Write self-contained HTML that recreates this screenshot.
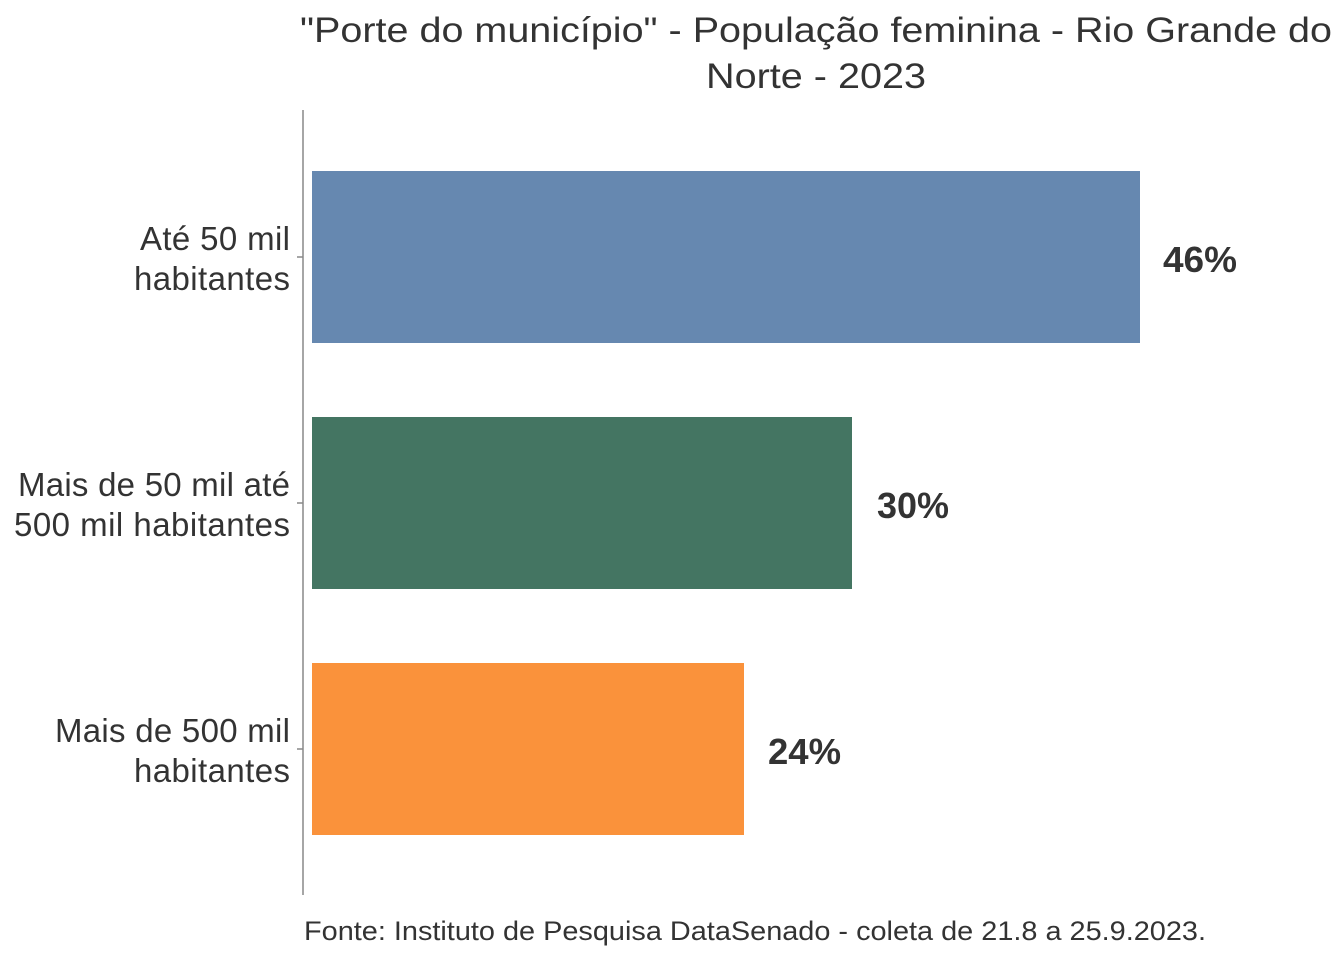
<!DOCTYPE html>
<html><head><meta charset="utf-8"><style>html,body{margin:0;padding:0;background:#fff}svg{display:block}</style></head>
<body>
<svg width="1344" height="960" viewBox="0 0 1344 960" xmlns="http://www.w3.org/2000/svg" font-family="'Liberation Sans', sans-serif">
<rect width="1344" height="960" fill="#fff"/>
<g fill="#333" font-size="35">
<text x="300" y="42" textLength="1032" lengthAdjust="spacingAndGlyphs">"Porte do município" - População feminina - Rio Grande do</text>
<text x="706" y="88" textLength="220" lengthAdjust="spacingAndGlyphs">Norte - 2023</text>
</g>
<line x1="303" y1="110" x2="303" y2="895" stroke="#888" stroke-width="1.5"/>
<g stroke="#888" stroke-width="1.5">
<line x1="297" y1="257" x2="303" y2="257"/><line x1="297" y1="503" x2="303" y2="503"/><line x1="297" y1="749" x2="303" y2="749"/>
</g>
<rect x="312" y="171" width="828" height="172" fill="#6688b0"/>
<rect x="312" y="417" width="540" height="172" fill="#447562"/>
<rect x="312" y="663" width="432" height="172" fill="#fa923b"/>
<g fill="#333" font-size="33" lengthAdjust="spacingAndGlyphs">
<text x="140" y="250" textLength="150">Até 50 mil</text><text x="134" y="290" textLength="156">habitantes</text>
<text x="18" y="496" textLength="272">Mais de 50 mil até</text><text x="14" y="536" textLength="276">500 mil habitantes</text>
<text x="55" y="742" textLength="235">Mais de 500 mil</text><text x="134" y="782" textLength="156">habitantes</text>
</g>
<g fill="#333" font-size="36" font-weight="bold">
<text x="1163" y="272" textLength="74" lengthAdjust="spacingAndGlyphs">46%</text>
<text x="877" y="518" textLength="72" lengthAdjust="spacingAndGlyphs">30%</text>
<text x="768" y="764" textLength="73" lengthAdjust="spacingAndGlyphs">24%</text>
</g>
<text x="304" y="940" fill="#333" font-size="27" textLength="902" lengthAdjust="spacingAndGlyphs">Fonte: Instituto de Pesquisa DataSenado - coleta de 21.8 a 25.9.2023.</text>
</svg>
</body></html>
